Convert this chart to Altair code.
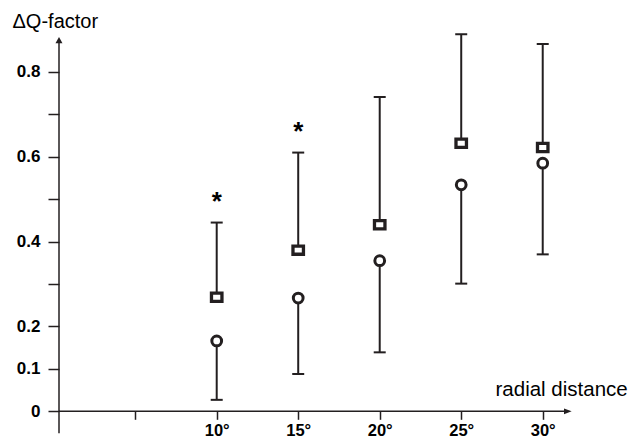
import altair as alt
import pandas as pd

# ---- data ----
angles = [10, 15, 20, 25, 30]
square_vals = [0.269, 0.380, 0.440, 0.632, 0.622]
circle_vals = [0.166, 0.267, 0.355, 0.534, 0.585]
upper_caps = [0.445, 0.610, 0.741, 0.889, 0.866]
lower_caps = [0.027, 0.088, 0.139, 0.301, 0.370]
star_angles = [10, 15]
star_vals = [0.510, 0.675]

x_tick_values = [5, 10, 15, 20, 25, 30]
x_tick_labels = ["", "10°", "15°", "20°", "25°", "30°"]
y_tick_values = [0, 0.1, 0.2, 0.3, 0.4, 0.5, 0.6, 0.7, 0.8]
y_tick_labels = ["0", "0.1", "0.2", "", "0.4", "", "0.6", "", "0.8"]

x_domain = [0.325, 31.98]
y_domain = [-0.0606, 0.9155]
# axis line extents (arrowed axes)
x_axis_end = 31.54
y_axis_bottom = -0.0519
y_axis_top = 0.8751

INK = "#231f20"
FONT = "Liberation Sans"


def label_expr(values, labels):
    expr = "''"
    for v, l in reversed(list(zip(values, labels))):
        expr = f"abs(datum.value - {v}) < 1e-6 ? '{l}' : ({expr})"
    return expr


xscale = alt.Scale(domain=x_domain, nice=False, zero=False)
yscale = alt.Scale(domain=y_domain, nice=False, zero=False)

xaxis = alt.Axis(
    values=x_tick_values, labelExpr=label_expr(x_tick_values, x_tick_labels),
    offset=-25.7, domain=False, grid=False, tickSize=8, tickWidth=1.5,
    tickColor=INK, labelColor="black", labelFont=FONT, labelFontWeight="bold",
    labelFontSize=16.5, labelPadding=3,
    title="radial distance", titleFont=FONT, titleFontSize=20.5,
    titleFontWeight="normal", titleColor="black", titleAnchor="start",
    titleAlign="left", titleBaseline="alphabetic", titleX=436, titleY=-15.5,
)
yaxis = alt.Axis(
    values=y_tick_values, labelExpr=label_expr(y_tick_values, y_tick_labels),
    domain=False, grid=False, tickSize=11, tickWidth=1.5, tickColor=INK,
    labelColor="black", labelFont=FONT, labelFontWeight="bold", labelFontSize=17,
    labelPadding=8,
    title="ΔQ-factor", titleFont=FONT, titleFontSize=20, titleFontWeight="normal",
    titleColor="black", titleAngle=0, titleAlign="left", titleBaseline="alphabetic",
    titleAnchor="end", titleX=-47, titleY=4.3,
)

X = alt.X("x:Q", scale=xscale, axis=xaxis)
Y = alt.Y("y:Q", scale=yscale, axis=yaxis)

df_up = pd.DataFrame({"x": angles, "y": square_vals, "y2": upper_caps})
df_lo = pd.DataFrame({"x": angles, "y": circle_vals, "y2": lower_caps})
df_sq = pd.DataFrame({"x": angles, "y": square_vals})
df_ci = pd.DataFrame({"x": angles, "y": circle_vals})
df_caps = pd.DataFrame({"x": angles + angles, "y": upper_caps + lower_caps})
df_star = pd.DataFrame({"x": star_angles, "y": star_vals})

df_axes = pd.DataFrame({
    "x": [x_domain[0], x_domain[0]],
    "x2": [x_domain[0], x_axis_end],
    "y": [y_axis_bottom, 0],
    "y2": [y_axis_top, 0],
})
df_yarrow = pd.DataFrame({"x": [x_domain[0]], "y": [y_axis_top]})
df_xarrow = pd.DataFrame({"x": [x_axis_end], "y": [0]})

axes_lines = alt.Chart(df_axes).mark_rule(color=INK, strokeWidth=1.5).encode(
    x=X, x2="x2:Q", y=Y, y2="y2:Q")
yarrow = alt.Chart(df_yarrow).mark_point(
    shape="M0,-1L1.1,1L-1.1,1Z", size=40, filled=True, color=INK, opacity=1
).encode(x=X, y=Y)
xarrow = alt.Chart(df_xarrow).mark_point(
    shape="M1,0L-1,-0.75L-1,0.75Z", size=59, filled=True, color=INK, opacity=1
).encode(x=X, y=Y)

up_rules = alt.Chart(df_up).mark_rule(color=INK, strokeWidth=2).encode(
    x=X, y=Y, y2="y2:Q")
lo_rules = alt.Chart(df_lo).mark_rule(color=INK, strokeWidth=2).encode(
    x=X, y=Y, y2="y2:Q")
caps = alt.Chart(df_caps).mark_tick(
    orient="horizontal", size=12, thickness=2, color=INK, opacity=1
).encode(x=X, y=Y)
squares = alt.Chart(df_sq).mark_point(
    shape="M-1.15,-0.9H1.15V0.9H-1.15Z", size=83, filled=False, fill="white",
    fillOpacity=1, stroke=INK, strokeWidth=3.3, opacity=1
).encode(x=X, y=Y)
circles = alt.Chart(df_ci).mark_point(
    shape="circle", size=95, filled=False, fill="white", fillOpacity=1,
    stroke=INK, strokeWidth=3, opacity=1
).encode(x=X, y=Y)
stars = alt.Chart(df_star).mark_text(
    text="*", font=FONT, fontWeight="bold", fontSize=26, color="black",
    baseline="alphabetic", dy=14.8
).encode(x=X, y=Y)

chart = alt.layer(
    axes_lines, yarrow, xarrow, up_rules, lo_rules, caps, squares, circles, stars
).properties(
    width=516, height=414,
    padding={"left": 51, "top": 15, "right": 53, "bottom": 2},
    autosize=alt.AutoSizeParams(type="none"),
    background="white",
).configure_view(stroke=None)

chart.save("out.html", embed_options={"renderer": "svg", "actions": False})
